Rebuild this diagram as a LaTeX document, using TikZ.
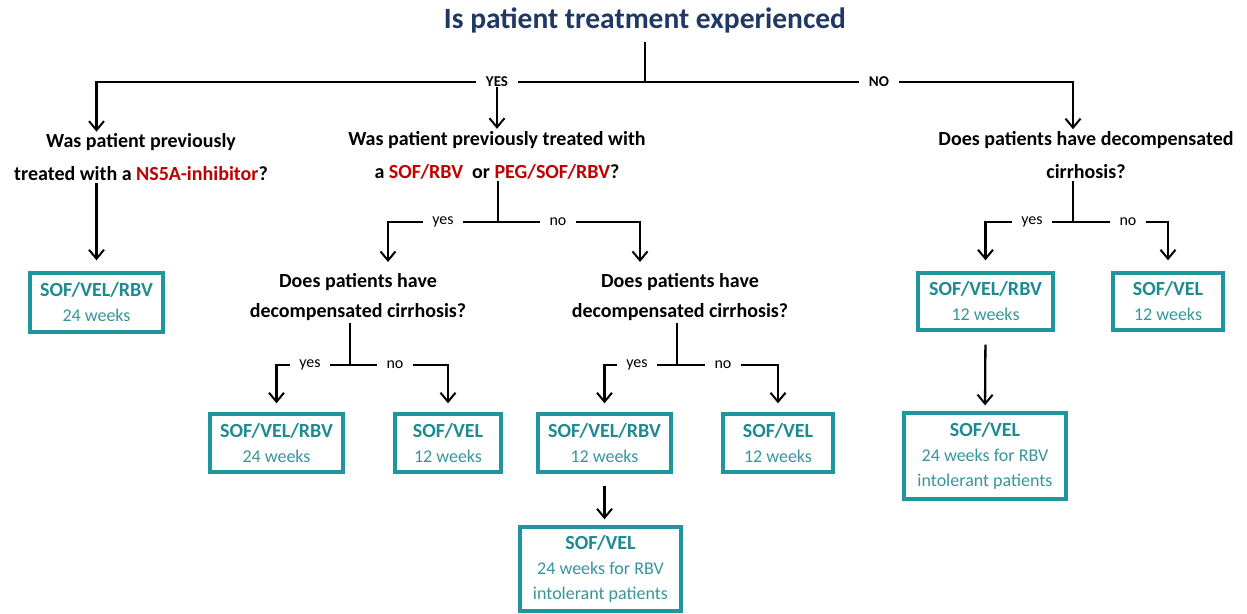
\documentclass[tikz,border=0pt]{standalone}
\usepackage{fontspec}
\setmainfont{Carlito}
\usetikzlibrary{arrows.meta}
\definecolor{tealb}{RGB}{31,150,158}
\definecolor{boxt}{RGB}{30,138,145}
\definecolor{weekc}{RGB}{55,150,156}
\definecolor{titlec}{RGB}{31,56,100}
\definecolor{redt}{RGB}{192,0,0}
\begin{document}
\begin{tikzpicture}[x=1pt,y=-1pt,
 ln/.style={draw=black,line width=2.3pt},
 arr/.style={ln,-{Straight Barb[length=9pt,width=15pt,line width=2pt]}},
 q/.style={font=\fontsize{20}{33}\selectfont\bfseries,align=center,inner sep=2pt},
 qs/.style={font=\fontsize{20}{30}\selectfont\bfseries,align=center,inner sep=2pt},
 lbl/.style={font=\fontsize{16}{16}\selectfont,inner xsep=9pt,inner ysep=0pt},
 biglbl/.style={font=\fontsize{15}{15}\selectfont\bfseries,inner xsep=10pt,inner ysep=0pt},
 tbox/.style={draw=tealb,line width=3.4pt,align=center,inner sep=0pt,
   font=\fontsize{18}{25}\selectfont,text=weekc},
]
\newcommand{\drug}[1]{{\fontsize{20}{25}\selectfont\bfseries\color{boxt}#1}}
\useasboundingbox[fill=white] (0,0) rectangle (1247,613);

% title and first split
\node[font=\fontsize{29.5}{29.5}\selectfont\bfseries,text=titlec] (title) at (645,20) {Is patient treatment experienced};
\node[biglbl] (yes0) at (497,82) {YES};
\node[biglbl] (no0) at (879,82) {NO};

% questions
\node[q] (q1) at (141,157.5) {Was patient previously\\treated with a {\color{redt}NS5A-inhibitor}?};
\node[q] (q2) at (497,155) {Was patient previously treated with\\a {\color{redt}SOF/RBV}\ \ or {\color{redt}PEG/SOF/RBV}?};
\node[q] (q3) at (1086,155) {Does patients have decompensated\\cirrhosis?};
\node[qs] (q2a) at (358,297) {Does patients have\\decompensated cirrhosis?};
\node[qs] (q2b) at (680,297) {Does patients have\\decompensated cirrhosis?};

% boxes
\node[tbox,minimum width=133pt,minimum height=59pt] (b1) at (96.5,302.5) {\drug{SOF/VEL/RBV}\\24 weeks};
\node[tbox,minimum width=135pt,minimum height=57pt] (b3a) at (985.5,301.5) {\drug{SOF/VEL/RBV}\\12 weeks};
\node[tbox,minimum width=110pt,minimum height=57pt] (b3b) at (1168,301.5) {\drug{SOF/VEL}\\12 weeks};
\node[tbox,minimum width=162pt,minimum height=86pt] (b3c) at (985,456) {\drug{SOF/VEL}\\24 weeks for RBV\\intolerant patients};
\node[tbox,minimum width=133pt,minimum height=58pt] (b2aa) at (276.5,443) {\drug{SOF/VEL/RBV}\\24 weeks};
\node[tbox,minimum width=106pt,minimum height=58pt] (b2ab) at (448,443) {\drug{SOF/VEL}\\12 weeks};
\node[tbox,minimum width=133pt,minimum height=58pt] (b2ba) at (604.5,443) {\drug{SOF/VEL/RBV}\\12 weeks};
\node[tbox,minimum width=110pt,minimum height=58pt] (b2bb) at (778,443) {\drug{SOF/VEL}\\12 weeks};
\node[tbox,minimum width=161pt,minimum height=84pt] (b2bc) at (600.5,569) {\drug{SOF/VEL}\\24 weeks for RBV\\intolerant patients};

% split labels
\coordinate (j2) at (498,222);
\coordinate (j3) at (1073,222);
\coordinate (j2a) at (350,365);
\coordinate (j2b) at (677,365);
\coordinate (a2a) at (388,262);
\coordinate (a2b) at (640,262);
\node[lbl] (yes2) at (443,222) {yes};
\node[lbl] (no2) at (558,222) {no};
\node[lbl] (yes3) at (1032,222) {yes};
\node[lbl] (no3) at (1128,222) {no};
\node[lbl] (yes2a) at (310,365) {yes};
\node[lbl] (no2a) at (395,365) {no};
\node[lbl] (yes2b) at (637,365) {yes};
\node[lbl] (no2b) at (723,365) {no};

% top level connectors
\draw[ln,shorten <=6pt] (title.south) -- (title.south |- yes0);
\draw[ln] (yes0.east) -- (no0.west);
\draw[arr] (yes0.west) -| (b1.north |- q1.north);
\draw[arr] (yes0.south) -- (yes0.south |- q2.north);
\draw[arr] (no0.east) -| (j3 |- q3.north);

% Q1
\draw[arr,shorten >=11pt] (b1.north |- q1.south) -- (b1.north);

% Q2
\draw[ln] (j2 |- q2.south) -- (j2);
\draw[ln] (yes2.east) -- (no2.west);
\draw[arr] (yes2.west) -| (a2a);
\draw[arr] (no2.east) -| (a2b);

% Q3
\draw[ln] (j3 |- q3.south) -- (j3);
\draw[ln] (yes3.east) -- (no3.west);
\draw[arr,shorten >=11pt] (yes3.west) -| (b3a.north);
\draw[arr,shorten >=11pt] (no3.east) -| (b3b.north);
\draw[arr,shorten <=13pt,shorten >=6pt] (b3a.south) -- (b3c.north);

% Q2a
\draw[ln] (j2a |- q2a.south) -- (j2a);
\draw[ln] (yes2a.east) -- (no2a.west);
\draw[arr,shorten >=9pt] (yes2a.west) -| (b2aa.north);
\draw[arr,shorten >=9pt] (no2a.east) -| (b2ab.north);

% Q2b
\draw[ln] (j2b |- q2b.south) -- (j2b);
\draw[ln] (yes2b.east) -- (no2b.west);
\draw[arr,shorten >=9pt] (yes2b.west) -| (b2ba.north);
\draw[arr,shorten >=9pt] (no2b.east) -| (b2bb.north);
\draw[arr,shorten <=12pt,shorten >=6pt] (b2ba.south) -- (b2ba.south |- b2bc.north);
\end{tikzpicture}
\end{document}
